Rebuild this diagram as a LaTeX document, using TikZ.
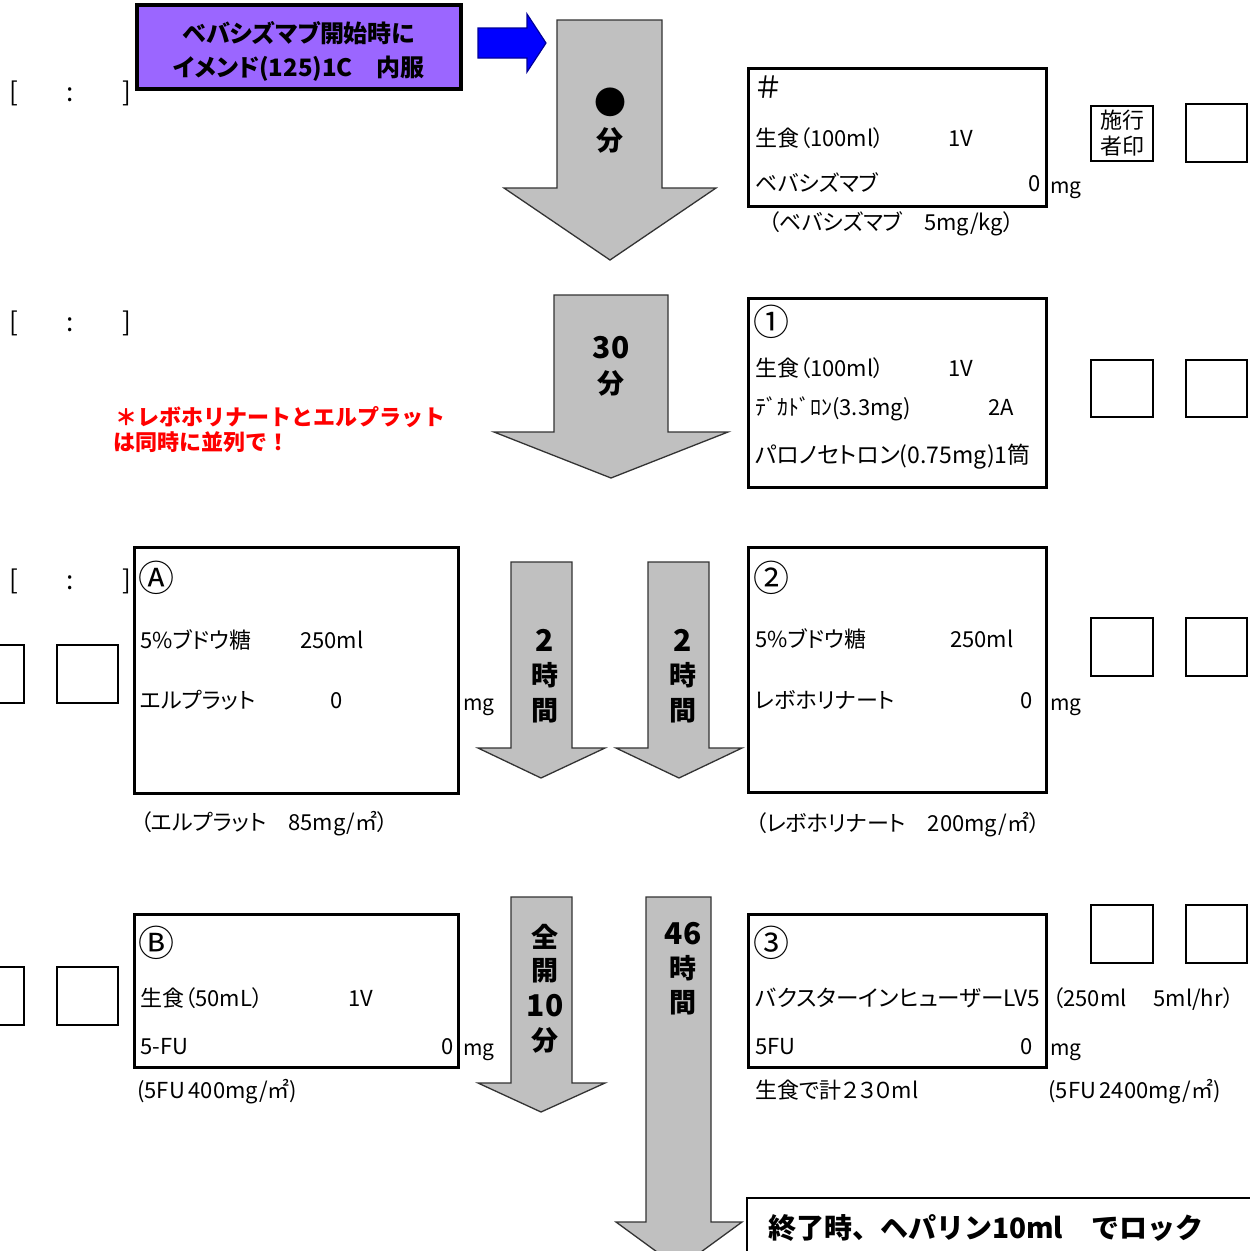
\documentclass[tikz,border=0pt]{standalone}
\usepackage{fontspec}
\newfontfamily\jp{Noto Sans CJK JP}[RawFeature=+palt]
\newfontfamily\jpn{Noto Sans CJK JP}
\newdimen\pxu \pxu=0.569pt
\definecolor{purp}{RGB}{155,102,255}
\definecolor{arrgray}{RGB}{192,192,192}
\tikzset{
  t/.style={inner sep=0pt, font=\jp\fontsize{#1\pxu}{#1\pxu}\selectfont,
    text height={0.88*#1*0.569pt}, text depth={0.12*#1*0.569pt}},
  tb/.style={t=#1, font=\jp\bfseries\fontsize{#1\pxu}{#1\pxu}\selectfont},
  tbn/.style={t=#1, font=\jpn\bfseries\fontsize{#1\pxu}{#1\pxu}\selectfont},
  mainbox/.style={draw=black, line width=3\pxu},
  smallbox/.style={draw=black, line width=1.6\pxu},
  blockarrow/.style={fill=arrgray, draw=black!80, line width=1.3\pxu, line join=miter},
}
\begin{document}
\begin{tikzpicture}[x=0.02cm,y=-0.02cm]
\useasboundingbox (0,0) rectangle (1250,1251);
\fill[white] (0,0) rectangle (1250,1251);

% ---------- block arrows ----------
\draw[blockarrow] (557,20)--(662,20)--(662,188)--(716,188)--(610,260)--(504,188)--(557,188)--cycle;
\draw[blockarrow] (554,295)--(668,295)--(668,432)--(728,432)--(611,478)--(494,432)--(554,432)--cycle;
\draw[blockarrow] (511,562)--(572,562)--(572,748)--(605,748)--(541,778)--(478,748)--(511,748)--cycle;
\draw[blockarrow] (648,562)--(709,562)--(709,748)--(742,748)--(679,778)--(616,748)--(648,748)--cycle;
\draw[blockarrow] (511,897)--(572,897)--(572,1083)--(605,1083)--(541,1112)--(478,1083)--(511,1083)--cycle;
\draw[blockarrow] (646,897)--(711,897)--(711,1222)--(742,1222)--(679,1268)--(616,1222)--(646,1222)--cycle;
% blue arrow
\draw[fill=blue, draw=blue!60!black, line width=1.2\pxu, line join=miter]
  (478,28)--(527,28)--(527,14)--(546,43)--(527,72)--(527,58)--(478,58)--cycle;

% arrow labels
\node[tb=32] (a1dot) at (610,102) {●};
\node[tb=27] (a1min) at (610,140) {分};
\node[tb=30] (a2num) at (611,347) {30};
\node[tb=27] (a2min) at (611,383) {分};
\node[tb=30] (a3n) at (545,640) {2};
\node[tb=27] (a3j) at (545,675) {時};
\node[tb=27] (a3k) at (545,710) {間};
\node[tb=30] (a4n) at (683,640) {2};
\node[tb=27] (a4j) at (683,675) {時};
\node[tb=27] (a4k) at (683,710) {間};
\node[tb=27] (a5a) at (545,937) {全};
\node[tb=27] (a5b) at (545,970) {開};
\node[tb=30] (a5c) at (545,1005) {10};
\node[tb=27] (a5d) at (545,1040) {分};
\node[tb=30] (a6a) at (683,933) {46};
\node[tb=27] (a6b) at (683,968) {時};
\node[tb=27] (a6c) at (683,1002) {間};

% ---------- purple box ----------
\draw[fill=purp, draw=black, line width=4\pxu] (137,5) rectangle (461,89);
\node[tb=24] (pb1) at (299,33) {ベバシズマブ開始時に};
\node[tb=24] (pb2) at (299,67) {イメンド(125)1C　内服};

% time brackets
\foreach \yy/\nm in {92/a,322/b,580/c}{
  \node[t=26] (bl\nm) at (14,\yy) {[};
  \node[t=26] (bc\nm) at (70,\yy) {:};
  \node[t=26] (br\nm) at (127,\yy) {]};
}

% ---------- box # ----------
\draw[mainbox] (748,68) rectangle (1046,206);
\node[t=30, anchor=west] (s0) at (756,87) {＃};
\node[t=22, anchor=west] (s1) at (755,138) {生食（100ml）};
\node[t=22, anchor=west] (s2) at (948,138) {1V};
\node[t=22, anchor=west] (s3) at (755,183) {ベバシズマブ};
\node[t=22, anchor=east] (s4) at (1041,183) {0};
\node[t=21, anchor=west] (s5) at (1050,186) {mg};
\node[t=22, anchor=west] (s6) at (768,222) {（ベバシズマブ　5mg/kg）};
\draw[smallbox] (1091,106) rectangle (1153,161);
\node[t=22] (sek1) at (1122,120) {施行};
\node[t=22] (sek2) at (1122,146) {者印};
\draw[smallbox] (1186,104) rectangle (1247,162);

% ---------- box 1 ----------
\draw[mainbox] (748,298) rectangle (1046,487);
\node[t=36, anchor=west] (c1) at (753,322) {①};
\node[t=22, anchor=west] (c1a) at (755,368) {生食（100ml）};
\node[t=22, anchor=west] (c1b) at (948,368) {1V};
\node[t=22, anchor=west] (c1c) at (755,407) {ﾃﾞｶﾄﾞﾛﾝ(3.3mg)};
\node[t=22, anchor=west] (c1d) at (988,407) {2A};
\node[t=23, anchor=west] (c1e) at (755,455) {パロノセトロン(0.75mg)1筒};
\draw[smallbox] (1091,360) rectangle (1153,417);
\draw[smallbox] (1186,360) rectangle (1247,417);

% red note
\node[tbn=22, anchor=west, text=red] (note1) at (115,417) {＊レボホリナートとエルプラット};
\node[tbn=22, anchor=west, text=red] (note2) at (113,442) {は同時に並列で！};

% ---------- box A ----------
\draw[mainbox] (134,547) rectangle (458,793);
\node[t=36, anchor=west] (cA) at (138,578) {Ⓐ};
\node[t=22, anchor=west] (Aa) at (140,640) {5\%ブドウ糖};
\node[t=22, anchor=west] (Ab) at (300,640) {250ml};
\node[t=22, anchor=west] (Ac) at (140,700) {エルプラット};
\node[t=22, anchor=west] (Ad) at (330,700) {0};
\node[t=21, anchor=west] (Ae) at (463,703) {mg};
\node[t=22, anchor=west] (Af) at (140,822) {（エルプラット　85mg/㎡）};
\draw[smallbox] (-30,645) rectangle (24,703);
\draw[smallbox] (57,645) rectangle (118,703);

% ---------- box 2 ----------
\draw[mainbox] (748,547) rectangle (1046,792);
\node[t=36, anchor=west] (c2) at (753,578) {②};
\node[t=22, anchor=west] (Ba) at (755,639) {5\%ブドウ糖};
\node[t=22, anchor=west] (Bb) at (950,639) {250ml};
\node[t=22, anchor=west] (Bc) at (755,700) {レボホリナート};
\node[t=22, anchor=east] (Bd) at (1033,700) {0};
\node[t=21, anchor=west] (Be) at (1050,703) {mg};
\node[t=22, anchor=west] (Bf) at (755,823) {（レボホリナート　200mg/㎡）};
\draw[smallbox] (1091,618) rectangle (1153,676);
\draw[smallbox] (1186,618) rectangle (1247,676);

% ---------- box B ----------
\draw[mainbox] (134,914) rectangle (458,1067);
\node[t=36, anchor=west] (cB) at (138,943) {Ⓑ};
\node[t=22, anchor=west] (Ca) at (140,998) {生食（50mL）};
\node[t=22, anchor=west] (Cb) at (348,998) {1V};
\node[t=22, anchor=west] (Cc) at (140,1046) {5-FU};
\node[t=22, anchor=east] (Cd) at (454,1046) {0};
\node[t=21, anchor=west] (Ce) at (463,1048) {mg};
\node[t=22, anchor=west] (Cf) at (137,1090) {(5FU\,400mg/㎡)};
\draw[smallbox] (-30,967) rectangle (24,1025);
\draw[smallbox] (57,967) rectangle (118,1025);

% ---------- box 3 ----------
\draw[mainbox] (748,914) rectangle (1046,1067);
\node[t=36, anchor=west] (c3) at (753,943) {③};
\node[t=22.6, anchor=west] (Da) at (755,998) {バクスターインヒューザーLV5};
\node[t=22, anchor=west] (Db) at (1052,998) {（250ml　 5ml/hr）};
\node[t=22, anchor=west] (Dc) at (755,1046) {5FU};
\node[t=22, anchor=east] (Dd) at (1033,1046) {0};
\node[t=21, anchor=west] (De) at (1050,1048) {mg};
\node[t=22, anchor=west] (Df) at (755,1090) {生食で計２３０ml};
\node[t=22, anchor=west] (Dg) at (1048,1090) {(5FU\,2400mg/㎡)};
\draw[smallbox] (1091,905) rectangle (1153,963);
\draw[smallbox] (1186,905) rectangle (1247,963);

% ---------- final box ----------
\draw[fill=white, draw=black, line width=1.8\pxu] (747,1198) rectangle (1262,1265);
\node[tbn=28, anchor=west] (fin) at (768,1228) {終了時、ヘパリン10ml　でロック};
\end{tikzpicture}
\end{document}
